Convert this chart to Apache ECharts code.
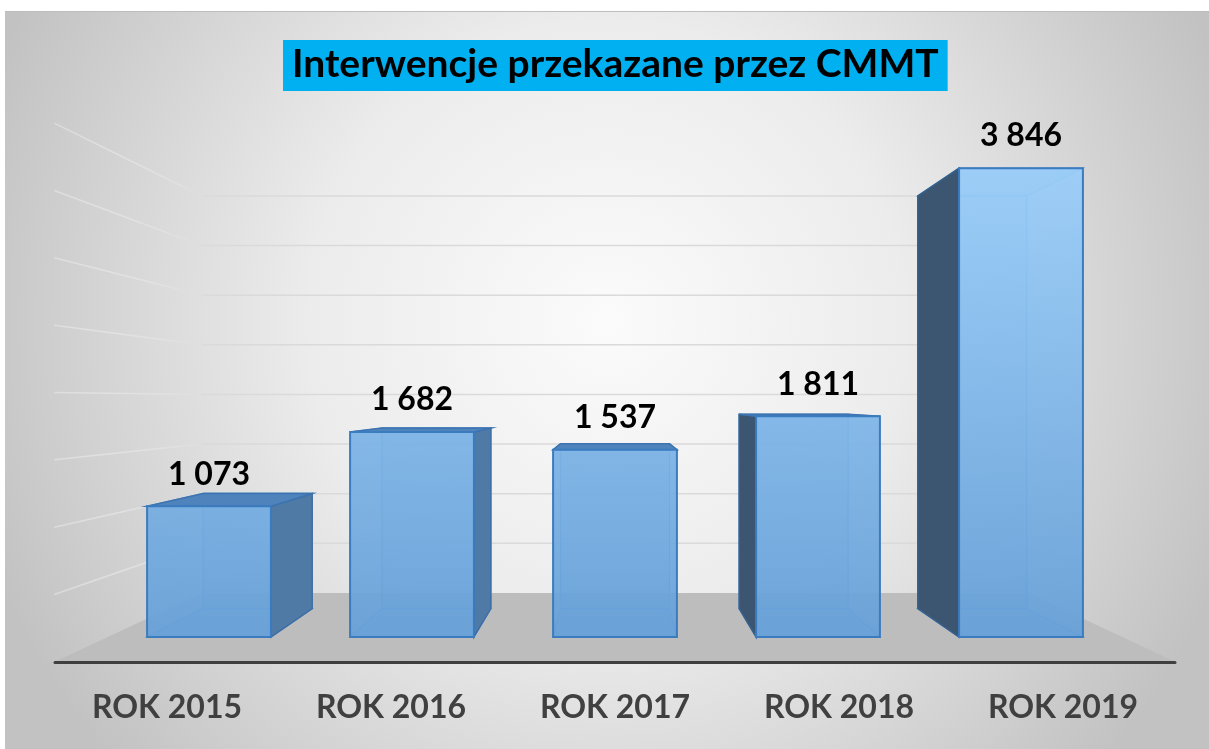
<!DOCTYPE html>
<html lang="pl">
<head>
    <meta charset="UTF-8">
    <title>Interwencje przekazane przez CMMT</title>
    <style>
        body { margin: 0; background: #fff; }
        #chart {
            position: absolute;
            left: 5px;
            top: 11px;
            width: 1204px;
            height: 737px;
            border-top: 1px solid #bdbdbd;
        }
    </style>
</head>
<body>
    <div id="chart"></div>
</body>
<script src="https://cdn.jsdelivr.net/npm/echarts@6/dist/echarts.min.js"></script>
<script>
    var categories = ['ROK 2015', 'ROK 2016', 'ROK 2017', 'ROK 2018', 'ROK 2019'];
    var values = [1073, 1682, 1537, 1811, 3846];
    var gridValues = [500, 1000, 1500, 2000, 2500, 3000, 3500, 4000];

    // "camera" of the fake 3D view (depth = scale towards the vanishing point)
    var horizonValue = 1945;   // eye level, in axis units
    var barBack = 0.88;        // depth of the back face of the bars
    var floorFront = 1.105;    // front edge of the floor
    var floorBack = 0.814;     // back wall
    var barShare = 0.61;       // bar width / category band

    function fmt(v) {
        return String(v).replace(/\B(?=(\d{3})+(?!\d))/g, ' ');
    }

    function proj(vp, p, k) {
        return [vp[0] + k * (p[0] - vp[0]), vp[1] + k * (p[1] - vp[1])];
    }

    function eye(api) {
        return api.coord([(categories.length - 1) / 2, horizonValue]);
    }

    // gridlines on the left wall + back wall
    function renderWall(params, api) {
        var vp = eye(api);
        var band = api.size([1, 0])[0];
        var v = api.value(1);
        var l = api.coord([0, v]);
        var r = api.coord([categories.length - 1, v]);
        l[0] -= band / 2;
        r[0] += band / 2;
        var a = proj(vp, l, floorFront), b = proj(vp, l, floorBack), c = proj(vp, r, floorBack);
        return {
            type: 'group',
            silent: true,
            children: [
                {
                    type: 'line',
                    shape: { x1: a[0], y1: a[1], x2: b[0], y2: b[1] },
                    style: {
                        stroke: new echarts.graphic.LinearGradient(a[0], 0, b[0], 0, [
                            { offset: 0, color: 'rgba(236,236,236,0.5)' },
                            { offset: 1, color: '#dedede' }
                        ], true),
                        lineWidth: 1.5
                    }
                },
                {
                    type: 'line',
                    shape: { x1: b[0], y1: b[1], x2: c[0], y2: c[1] },
                    style: { stroke: '#dadada', lineWidth: 1.5 }
                }
            ]
        };
    }

    function renderFloor(params, api) {
        var vp = eye(api);
        var band = api.size([1, 0])[0];
        var l = api.coord([0, 0]);
        var r = api.coord([categories.length - 1, 0]);
        l[0] -= band / 2;
        r[0] += band / 2;
        return {
            type: 'polygon',
            silent: true,
            shape: { points: [proj(vp, l, floorFront), proj(vp, r, floorFront), proj(vp, r, floorBack), proj(vp, l, floorBack)] },
            style: { fill: '#bdbdbd' }
        };
    }

    function renderBar(params, api) {
        var i = api.value(0), v = api.value(1);
        var vp = eye(api);
        var band = api.size([1, 0])[0];
        var w = band * barShare;
        var base = api.coord([i, 0]);
        var top = api.coord([i, v]);
        var yMax = api.coord([i, 4000])[1];
        var x0 = base[0] - w / 2, x1 = base[0] + w / 2, yb = base[1], yt = top[1];
        var F = { tl: [x0, yt], tr: [x1, yt], br: [x1, yb], bl: [x0, yb] };
        var B = {};
        for (var key in F) B[key] = proj(vp, F[key], barBack);

        var inner = { fill: 'rgba(91,155,213,0.25)', stroke: '#5b96d0', lineWidth: 1.2 };
        var children = [
            { type: 'polygon', shape: { points: [B.tl, B.tr, B.br, B.bl] }, style: inner },
            { type: 'polygon', shape: { points: [F.bl, F.br, B.br, B.bl] }, style: inner },
            { type: 'polygon', shape: { points: [F.tl, F.tr, B.tr, B.tl] }, style: inner }
        ];
        if (base[0] < vp[0] - 1) {
            children.push({ type: 'polygon', shape: { points: [F.tr, B.tr, B.br, F.br] },
                style: { fill: '#4f7aa6', stroke: '#3d6fa6', lineWidth: 1.5 } });
        } else if (base[0] > vp[0] + 1) {
            children.push({ type: 'polygon', shape: { points: [F.tl, B.tl, B.bl, F.bl] },
                style: { fill: '#3c5671', stroke: '#35618f', lineWidth: 1.5 } });
        }
        if (yt > vp[1]) {
            children.push({ type: 'polygon', shape: { points: [F.tl, F.tr, B.tr, B.tl] },
                style: { fill: '#4f83bc', stroke: '#3d74b0', lineWidth: 1.5 } });
        }
        children.push({
            type: 'polygon',
            shape: { points: [F.tl, F.tr, F.br, F.bl] },
            style: {
                fill: new echarts.graphic.LinearGradient(0, yMax, 0, yb, [
                    { offset: 0, color: 'rgba(155,207,251,0.92)' },
                    { offset: 1, color: 'rgba(102,160,216,0.93)' }
                ], true),
                stroke: '#3b7bbf',
                lineWidth: 2
            }
        });
        children.push({
            type: 'text',
            style: {
                text: fmt(v), x: base[0], y: yt - 32,
                align: 'center', verticalAlign: 'middle',
                font: 'bold 32px Lato', fill: '#000'
            }
        });
        return { type: 'group', children: children };
    }

    var myChart = echarts.init(document.getElementById('chart'));

    var option = {
        animation: false,
        backgroundColor: {
            type: 'radial', x: 0.5, y: 0.42, r: 0.9,
            colorStops: [
                { offset: 0, color: '#fbfbfb' },
                { offset: 0.45, color: '#ececec' },
                { offset: 1, color: '#c2c2c2' }
            ]
        },
        title: {
            text: 'Interwencje przekazane przez CMMT',
            left: 278,
            top: 28,
            backgroundColor: '#00b0f0',
            padding: [5, 9, 7, 9],
            textStyle: { fontFamily: 'Lato', fontWeight: 'bold', fontSize: 39, color: '#000' }
        },
        grid: [
            { left: 102.5, right: 86.5, top: 137.4, bottom: 112 },
            { left: 50, right: 34, top: 600, bottom: 87 }
        ],
        xAxis: [
            { type: 'category', data: categories, show: false },
            {
                type: 'category', data: categories, gridIndex: 1, z: 5,
                axisLine: { lineStyle: { color: '#3f3f3f', width: 3 } },
                axisTick: { show: false },
                axisLabel: { color: '#404040', fontSize: 32, fontWeight: 'bold', fontFamily: 'Lato', margin: 30 }
            }
        ],
        yAxis: [
            { type: 'value', min: 0, max: 4000, show: false },
            { type: 'value', gridIndex: 1, show: false }
        ],
        series: [
            {
                type: 'custom', z: 1, silent: true,
                renderItem: renderWall,
                data: gridValues.map(function (v) { return [0, v]; })
            },
            {
                type: 'custom', z: 2, silent: true,
                renderItem: renderFloor,
                data: [[0, 0]]
            },
            {
                type: 'custom', z: 3,
                renderItem: renderBar,
                data: values.map(function (v, i) { return [i, v]; })
            }
        ]
    };

    myChart.setOption(option);
    window.addEventListener('resize', function () {
        myChart.resize();
    });
</script>
</html>
